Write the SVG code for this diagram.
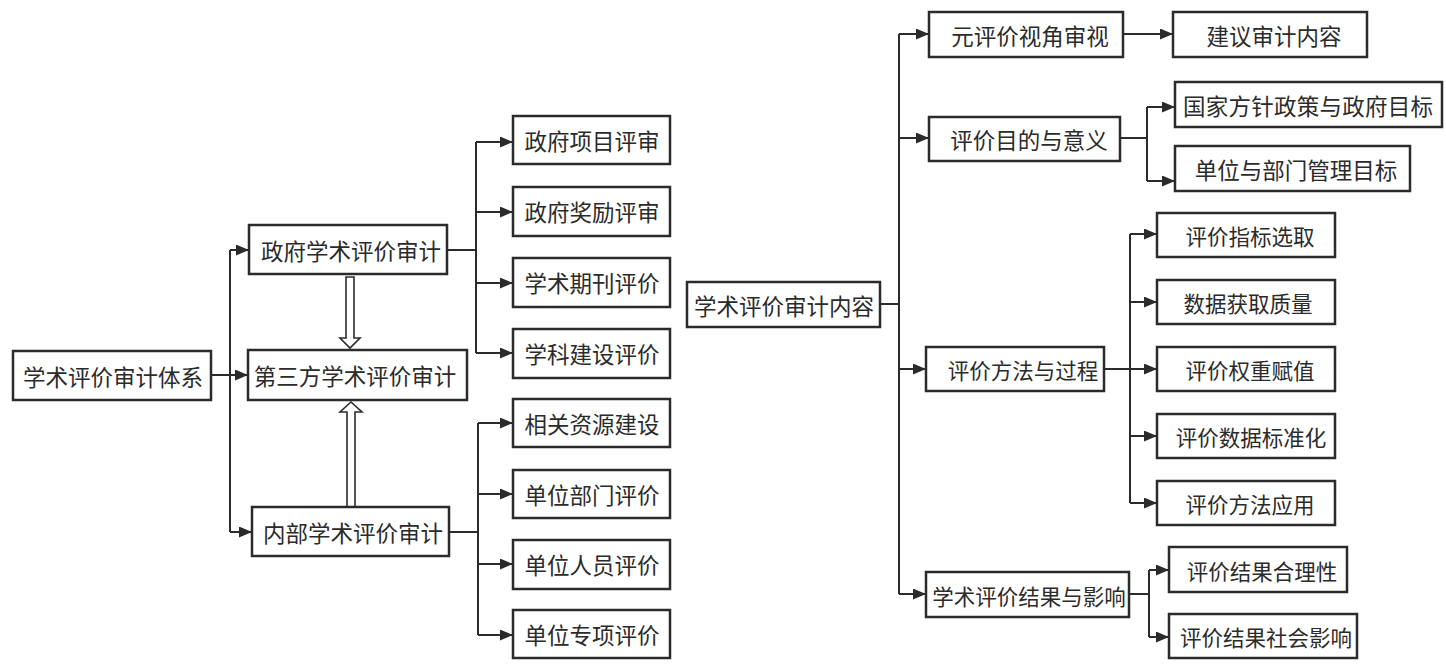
<svg xmlns="http://www.w3.org/2000/svg" width="1446" height="666" viewBox="0 0 1446 666">
<style>
.box{fill:#fff;stroke:#2b2b2b;stroke-width:2.5}
.t{font-family:"Noto Sans CJK SC","Noto Sans CJK TC",sans-serif;font-size:22.5px;fill:#2b2b2b;text-anchor:middle;dominant-baseline:central}
.r{font-size:21.5px}
.ln{fill:none;stroke:#2b2b2b;stroke-width:2}
.ar{marker-end:url(#ah)}
.hollow{fill:#fff;stroke:#2b2b2b;stroke-width:1.6;stroke-linejoin:miter}
</style>
<defs>
<marker id="ah" markerUnits="userSpaceOnUse" markerWidth="14" markerHeight="12" refX="13" refY="5.5" orient="auto">
<path d="M0,0 L13,5.5 L0,11 z" fill="#2b2b2b"/>
</marker>
</defs>
<rect width="1446" height="666" fill="#fff"/>
<g id="connectors">
<path class="ln" d="M211,375 H230 M230,250 V532"/>
<path class="ln ar" d="M230,250 H249"/>
<path class="ln ar" d="M230,375 H248"/>
<path class="ln ar" d="M230,532 H252"/>
<path class="ln" d="M447,250 H476 M476,142 V353"/>
<path class="ln ar" d="M476,142 H513"/>
<path class="ln ar" d="M476,212 H513"/>
<path class="ln ar" d="M476,283 H513"/>
<path class="ln ar" d="M476,353 H513"/>
<path class="ln" d="M449,532 H478 M478,423 V635"/>
<path class="ln ar" d="M478,423 H513"/>
<path class="ln ar" d="M478,494 H513"/>
<path class="ln ar" d="M478,564 H513"/>
<path class="ln ar" d="M478,635 H513"/>
<polygon class="hollow" points="346,277 354,277 354,338 360,338 350,348 340,338 346,338"/>
<polygon class="hollow" points="347,507 355,507 355,412 362,412 351,402 340,412 347,412"/>
<path class="ln" d="M880,304 H899 M899,34 V594"/>
<path class="ln ar" d="M899,34 H929"/>
<path class="ln ar" d="M899,138 H929"/>
<path class="ln ar" d="M899,369 H926"/>
<path class="ln ar" d="M899,594 H926"/>
<path class="ln ar" d="M1123,34 H1173"/>
<path class="ln" d="M1120,138 H1147 M1147,107 V181"/>
<path class="ln ar" d="M1147,107 H1175"/>
<path class="ln ar" d="M1147,181 H1175"/>
<path class="ln" d="M1104,369 H1130 M1130,234 V503"/>
<path class="ln ar" d="M1130,234 H1157"/>
<path class="ln ar" d="M1130,302 H1157"/>
<path class="ln ar" d="M1130,369 H1157"/>
<path class="ln ar" d="M1130,436 H1157"/>
<path class="ln ar" d="M1130,503 H1157"/>
<path class="ln" d="M1129,594 H1149 M1149,570 V637"/>
<path class="ln ar" d="M1149,570 H1169"/>
<path class="ln ar" d="M1149,637 H1169"/>
</g>
<g id="n-root"><rect class="box" x="13" y="351" width="198" height="49"/><text class="t" x="113" y="376">学术评价审计体系</text></g>
<g id="n-gov"><rect class="box" x="249" y="225" width="198" height="49"/><text class="t" x="351" y="250">政府学术评价审计</text></g>
<g id="n-third"><rect class="box" x="248" y="350" width="219" height="50"/><text class="t" x="355" y="375">第三方学术评价审计</text></g>
<g id="n-internal"><rect class="box" x="252" y="507" width="197" height="49"/><text class="t" x="353" y="532">内部学术评价审计</text></g>
<g id="n-g1"><rect class="box" x="513" y="116" width="157" height="48"/><text class="t" x="592" y="140">政府项目评审</text></g>
<g id="n-g2"><rect class="box" x="513" y="187" width="157" height="49"/><text class="t" x="592" y="211">政府奖励评审</text></g>
<g id="n-g3"><rect class="box" x="513" y="258" width="157" height="49"/><text class="t" x="592" y="282">学术期刊评价</text></g>
<g id="n-g4"><rect class="box" x="513" y="329" width="157" height="49"/><text class="t" x="592" y="353">学科建设评价</text></g>
<g id="n-i1"><rect class="box" x="513" y="399" width="157" height="48"/><text class="t" x="592" y="423">相关资源建设</text></g>
<g id="n-i2"><rect class="box" x="513" y="470" width="157" height="48"/><text class="t" x="592" y="494">单位部门评价</text></g>
<g id="n-i3"><rect class="box" x="513" y="540" width="157" height="49"/><text class="t" x="592" y="564">单位人员评价</text></g>
<g id="n-i4"><rect class="box" x="513" y="610" width="157" height="48"/><text class="t" x="592" y="634">单位专项评价</text></g>
<g id="n-content"><rect class="box" x="687" y="282" width="193" height="45"/><text class="t" x="784" y="305">学术评价审计内容</text></g>
<g id="n-meta"><rect class="box" x="929" y="12" width="194" height="45"/><text class="t" x="1030" y="35">元评价视角审视</text></g>
<g id="n-suggest"><rect class="box" x="1173" y="12" width="194" height="45"/><text class="t" x="1274" y="35">建议审计内容</text></g>
<g id="n-purpose"><rect class="box" x="929" y="117" width="191" height="44"/><text class="t" x="1029" y="139">评价目的与意义</text></g>
<g id="n-national"><rect class="box" x="1175" y="82" width="267" height="45"/><text class="t" x="1308" y="105" textLength="250" lengthAdjust="spacing">国家方针政策与政府目标</text></g>
<g id="n-unit"><rect class="box" x="1175" y="146" width="235" height="45"/><text class="t" x="1296" y="169">单位与部门管理目标</text></g>
<g id="n-method"><rect class="box" x="926" y="347" width="178" height="44"/><text class="t r" x="1023" y="369">评价方法与过程</text></g>
<g id="n-m1"><rect class="box" x="1157" y="213" width="178" height="44"/><text class="t r" x="1250" y="235">评价指标选取</text></g>
<g id="n-m2"><rect class="box" x="1157" y="280" width="178" height="44"/><text class="t r" x="1248" y="302">数据获取质量</text></g>
<g id="n-m3"><rect class="box" x="1157" y="347" width="178" height="44"/><text class="t r" x="1250" y="369">评价权重赋值</text></g>
<g id="n-m4"><rect class="box" x="1157" y="414" width="178" height="44"/><text class="t r" x="1251" y="436">评价数据标准化</text></g>
<g id="n-m5"><rect class="box" x="1157" y="481" width="178" height="44"/><text class="t r" x="1250" y="503">评价方法应用</text></g>
<g id="n-result"><rect class="box" x="926" y="572" width="203" height="45"/><text class="t r" x="1029" y="595">学术评价结果与影响</text></g>
<g id="n-r1"><rect class="box" x="1169" y="547" width="178" height="45"/><text class="t r" x="1262" y="570">评价结果合理性</text></g>
<g id="n-r2"><rect class="box" x="1169" y="614" width="188" height="44"/><text class="t r" x="1266" y="636">评价结果社会影响</text></g>
</svg>
